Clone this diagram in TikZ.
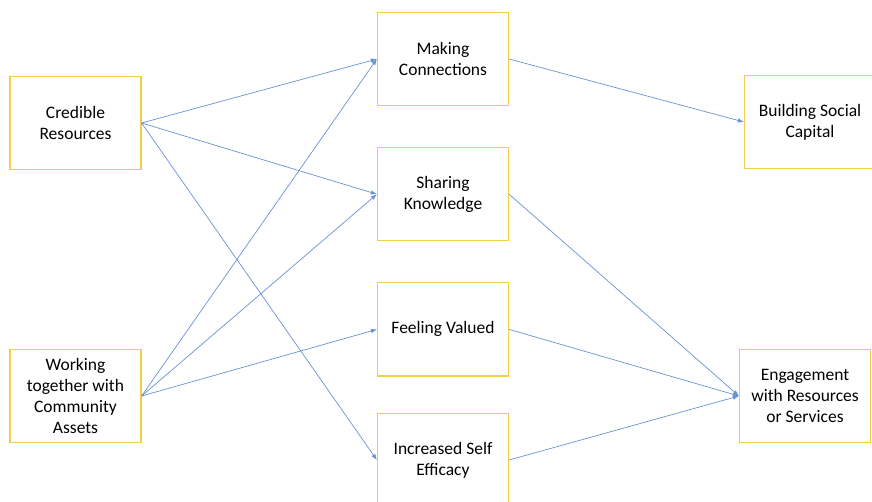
\documentclass[tikz,border=0pt]{standalone}
\usepackage{fontspec}
\setmainfont{Carlito}
\usetikzlibrary{positioning}
\usetikzlibrary{arrows.meta}
\definecolor{boxgold}{RGB}{243,204,72}
\definecolor{linkblue}{RGB}{104,146,214}
\tikzset{factor/.style={rectangle,
                        draw=boxgold,
                        line width=1.2pt,
                        minimum width=131pt,
                        minimum height=93pt,
                        align=center,
                        inner sep=2pt,
                        font=\fontsize{17.5}{21}\selectfont
                        },
        link/.style={-{Latex[length=6pt,width=4.5pt]},
                     linkblue,
                     line width=0.7pt
        },
}

\begin{document}
\begin{tikzpicture}
    [x=1pt,y=-1pt]
    \useasboundingbox (0,0) rectangle (872,502);

    % INPUTS
    \node[factor] (credible) at (75.5,123) {Credible\\Resources};
    \node[factor] (working) at (75.5,396) {Working\\together with\\Community\\Assets};

    % MECHANISMS
    \node[factor] (connections) at (443,59) {Making\\Connections};
    \node[factor, below=41pt of connections] (sharing) {Sharing\\Knowledge};
    \node[factor, below=41pt of sharing] (valued) {Feeling Valued};
    \node[factor] (efficacy) at (443,460) {Increased Self\\Efficacy};

    % OUTCOMES
    \node[factor] (capital) at (810,122) {Building Social\\Capital};
    \node[factor] (engagement) at (805,396) {Engagement\\with Resources\\or Services};

    \draw[link] (credible.east) -- (connections.west);
    \draw[link] (credible.east) -- (sharing.west);
    \draw[link] (credible.east) -- (efficacy.west);

    \draw[link] (working.east) -- (connections.west);
    \draw[link] (working.east) -- (sharing.west);
    \draw[link] (working.east) -- (valued.west);

    \draw[link] (connections.east) -- (capital.west);
    \draw[link] (sharing.east) -- (engagement.west);
    \draw[link] (valued.east) -- (engagement.west);
    \draw[link] (efficacy.east) -- (engagement.west);

\end{tikzpicture}
\end{document}
